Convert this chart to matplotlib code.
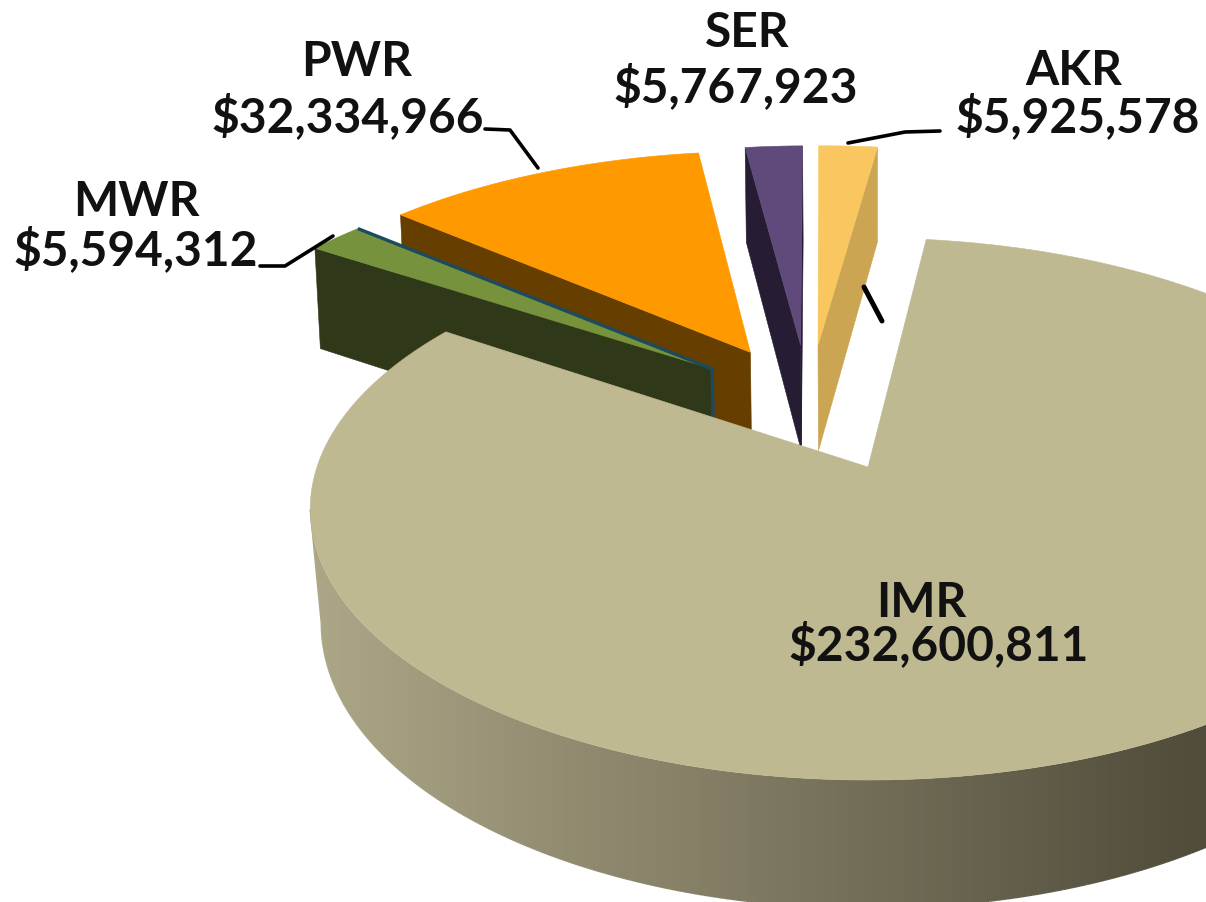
import numpy as np
import matplotlib
matplotlib.use("Agg")
import matplotlib.pyplot as plt
from matplotlib.patches import Polygon
from matplotlib.collections import LineCollection

# ---- data -----------------------------------------------------------------
regions = ["IMR", "MWR", "PWR", "SER", "AKR"]
amounts = [232600811, 5594312, 32334966, 5767923, 5925578]
top_colors = ["#BFB992", "#76923C", "#FF9900", "#604A7B", "#F9C660"]
cut_colors = ["#8F8A6C", "#2F3818", "#663F00", "#261C33", "#CBA552"]
draw_order = ["AKR", "SER", "PWR", "MWR", "IMR"]

# ---- 3-D pie projection ---------------------------------------------------
START_ANGLE = 7.0      # first slice starts here, clockwise from the rear
CX, CY = 868.0, 467.0  # screen position of the first slice's apex
SX, SY = 551.0, 264.5  # horizontal / vertical disc scale
PERSP = 0.155          # perspective strength
EXPLODE = 0.26         # slice explosion, in disc radii
DEPTH = 112.0          # extrusion depth
DEPTH_POW = 0.8
RIM_SHIFT = {"IMR": 0, "MWR": -2, "PWR": -3, "SER": -4, "AKR": -3}
APEX_SHIFT = {"IMR": 0, "MWR": 8, "PWR": 2, "SER": -2, "AKR": -2}
BOTTOM_SHRINK = {"IMR": 0.98, "MWR": 0.99, "PWR": 0.99, "SER": 0.99, "AKR": 0.99}


def project(x, y, bottom=None):
    x, y = np.asarray(x, float), np.asarray(y, float)
    w = 1 + PERSP * y
    sx = SX * x / w
    sy = -SY * y / w
    if bottom is not None:
        sx = sx * bottom
        sy = sy + DEPTH / w ** DEPTH_POW
    return CX + sx, CY + sy


def direction(angle):
    rad = np.radians(angle)
    return np.sin(rad), np.cos(rad)


def area(xs, ys):
    return 0.5 * np.sum(xs * np.roll(ys, -1) - np.roll(xs, -1) * ys)


GRAD_L, GRAD_R = np.array([172, 167, 135]) / 255, np.array([80, 75, 58]) / 255
GRAD_X0, GRAD_X1 = 310.0, 1206.0


def side_color(px):
    t = np.clip((np.asarray(px, float) - GRAD_X0) / (GRAD_X1 - GRAD_X0), 0, 1)
    return GRAD_L + (GRAD_R - GRAD_L) * t[..., None]


fig = plt.figure(figsize=(12.06, 9.02), dpi=100)
ax = fig.add_axes([0, 0, 1, 1])

total = sum(amounts)
sweeps = [v / total * 360.0 for v in amounts]
starts = START_ANGLE + np.concatenate([[0], np.cumsum(sweeps)[:-1]])
mids = starts + np.array(sweeps) / 2
base_dir = direction(mids[0])

for name in draw_order:
    i = regions.index(name)
    a0, a1 = starts[i], starts[i] + sweeps[i]
    d = direction(mids[i])
    ox = EXPLODE * (d[0] - base_dir[0])
    oy = EXPLODE * (d[1] - base_dir[1])
    n = max(8, int(sweeps[i] * 3))
    ang = np.linspace(a0, a1, n + 1)
    ux, uy = direction(ang)
    rim_x, rim_y = ox + ux, oy + uy

    shrink = BOTTOM_SHRINK[name]
    tx, ty = project(rim_x, rim_y)
    bx, by = project(rim_x, rim_y, bottom=shrink)
    apx, apy = project(ox, oy)
    abx, aby = project(ox, oy, bottom=shrink)
    tx, bx = tx + RIM_SHIFT[name], bx + RIM_SHIFT[name]
    apx, abx = apx + APEX_SHIFT[name], abx + APEX_SHIFT[name]

    if name == "IMR":
        # front rim as one smooth horizontal gradient, clipped to the rim shape;
        # it runs from the right side round to the left extremes of both rims
        lo = int(np.argmax(tx))
        it, ib = int(np.argmin(tx)), int(np.argmin(bx))
        rim_poly = Polygon(np.c_[np.r_[tx[lo:it + 1], bx[lo:ib + 1][::-1]],
                                 np.r_[ty[lo:it + 1], by[lo:ib + 1][::-1]]],
                           closed=True, fc="none", ec="none", zorder=1)
        ax.add_patch(rim_poly)
        grad_x = np.linspace(GRAD_X0 - 10, GRAD_X1 + 250, 800)
        im = ax.imshow(side_color(grad_x)[None, :, :], aspect="auto",
                       extent=[grad_x[0], grad_x[-1], 1100, 200], zorder=1,
                       interpolation="bilinear")
        im.set_clip_path(rim_poly)
        edge_x = np.r_[tx[it], bx[lo:ib + 1][::-1]]
        edge_y = np.r_[ty[it], by[lo:ib + 1][::-1]]
        segs = np.stack([np.c_[edge_x[:-1], edge_y[:-1]],
                         np.c_[edge_x[1:], edge_y[1:]]], axis=1)
        ax.add_collection(LineCollection(segs, colors=side_color(edge_x[:-1]),
                                         linewidths=1.2, zorder=1))
    else:
        for k in range(n):
            xs = np.array([tx[k], tx[k + 1], bx[k + 1], bx[k]])
            ys = np.array([ty[k], ty[k + 1], by[k + 1], by[k]])
            if area(xs, ys) < 0:
                ax.add_patch(Polygon(np.c_[xs, ys], closed=True, fc=cut_colors[i],
                                     ec=cut_colors[i], lw=0.6, zorder=1))
        # radial cut faces
        for j, sign in ((0, 1), (-1, -1)):
            xs = np.array([tx[j], apx, abx, bx[j]])
            ys = np.array([ty[j], apy, aby, by[j]])
            if sign * area(xs, ys) > 0 or (name in ("MWR", "PWR") and j == 0):
                ax.add_patch(Polygon(np.c_[xs, ys], closed=True, fc=cut_colors[i],
                                     ec=cut_colors[i], lw=0.4, zorder=1))

    # top face
    ax.add_patch(Polygon(np.c_[np.r_[apx, tx], np.r_[apy, ty]], closed=True,
                         fc=top_colors[i], ec=top_colors[i], lw=0.4, zorder=1))

    # teal edge of the MWR slice
    if name == "MWR":
        ax.plot([tx[-1], apx, abx], [ty[-1], apy, aby], color="#1C4A5E", lw=2.4,
                solid_joinstyle="miter", solid_capstyle="butt", zorder=1)

# ---- leader lines ---------------------------------------------------------
leaders = [
    ([848, 905, 940], [143, 132, 131], 2.6),
    ([485, 510, 538], [129, 130, 168], 2.6),
    ([260, 285, 333], [266, 266, 236], 2.6),
    ([864, 882], [287, 321], 3.6),
]
for xs, ys, lw in leaders:
    ax.plot(xs, ys, color="black", lw=lw, solid_capstyle="round", zorder=8)

# ---- labels ---------------------------------------------------------------
label_pos = {
    "IMR": ((921, 603), (939, 645)),
    "MWR": ((136, 202), (136, 250)),
    "PWR": ((357, 62), (348, 117)),
    "SER": ((747, 33), (736, 87)),
    "AKR": ((1074, 71), (1078, 117)),
}
for name, value in zip(regions, amounts):
    (lx, ly), (vx, vy) = label_pos[name]
    ax.text(lx, ly, name, ha="center", va="center", family="Lato", weight="bold",
            fontsize=34.5, color="#111111", zorder=9)
    ax.text(vx, vy, f"${value:,}", ha="center", va="center", family="Lato",
            weight="bold", fontsize=34.5, color="#111111", zorder=9)

ax.set_xlim(0, 1206)
ax.set_ylim(902, 0)
ax.axis("off")

fig.savefig("out.png", dpi=100, facecolor="white")
